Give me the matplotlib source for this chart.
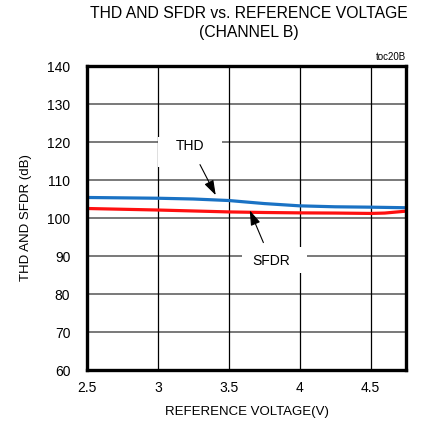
import matplotlib
matplotlib.use("Agg")
import matplotlib.pyplot as plt
from matplotlib.patches import Rectangle

plt.rcParams['font.family'] = ['Liberation Sans', 'DejaVu Sans']

# data
vref_thd = [2.5, 2.75, 3.0, 3.25, 3.5, 3.75, 4.0, 4.25, 4.5, 4.75]
thd = [105.4, 105.3, 105.2, 105.0, 104.6, 103.8, 103.2, 102.95, 102.85, 102.7]
vref_sfdr = [2.5, 2.75, 3.0, 3.25, 3.5, 3.75, 4.0, 4.25, 4.5, 4.6, 4.75]
sfdr = [102.5, 102.3, 102.1, 101.85, 101.6, 101.45, 101.35, 101.3, 101.2, 101.3, 101.8]

xticks = [2.5, 3, 3.5, 4, 4.5]
xticklabels = ['2.5', '3', '3.5', '4', '4.5']
yticks = [60, 70, 80, 90, 100, 110, 120, 130, 140]

fig = plt.figure(figsize=(4.22, 4.23), dpi=100)
ax = fig.add_axes([87/422, 53/423, 319/422, 304/423])

ax.set_xlim(2.5, 4.75)
ax.set_ylim(60, 140)
ax.set_xticks(xticks)
ax.set_xticklabels(xticklabels)
ax.set_yticks(yticks)
ax.tick_params(length=0, labelsize=10)
ax.tick_params(axis='y', pad=12)
ax.tick_params(axis='x', pad=8)

for y in yticks[1:-1]:
    ax.axhline(y, color='#555555', lw=1.1, zorder=1)
for x in xticks[1:]:
    ax.axvline(x, color='black', lw=0.9, zorder=1)

for s in ax.spines.values():
    s.set_linewidth(2.4)
    s.set_zorder(5)

# white boxes behind the labels
ax.add_patch(Rectangle((3.0, 113.4), 0.45, 8.0, fc='white', ec='none', zorder=2))
ax.add_patch(Rectangle((3.59, 85.5), 0.465, 6.9, fc='white', ec='none', zorder=2))

ax.plot(vref_thd, thd, color='#1a72c4', lw=2.3, zorder=3)
ax.plot(vref_sfdr, sfdr, color='#ff1010', lw=2.3, zorder=3)

arrow = dict(arrowstyle='-|>,head_width=0.3,head_length=0.9',
             color='black', lw=0.8, shrinkA=7, shrinkB=0)
ax.annotate('THD', xy=(3.408, 106.0), xytext=(3.23, 118.9), fontsize=10,
            ha='center', va='center', zorder=4, arrowprops=arrow)
ax.annotate('SFDR', xy=(3.648, 102.0), xytext=(3.80, 88.6), fontsize=10,
            ha='center', va='center', zorder=4, arrowprops=arrow)

ax.set_xlabel('REFERENCE VOLTAGE(V)', fontsize=9.5, labelpad=8)
ax.set_ylabel('THD AND SFDR (dB)', fontsize=9.5, labelpad=11)

fig.text(0.59, 0.968, 'THD AND SFDR vs. REFERENCE VOLTAGE', ha='center', va='center', fontsize=11.3)
fig.text(0.59, 0.922, '(CHANNEL B)', ha='center', va='center', fontsize=11.3)
fig.text(0.963, 0.865, 'toc20B', ha='right', va='center', fontsize=7)

fig.savefig('out.png', dpi=100)
